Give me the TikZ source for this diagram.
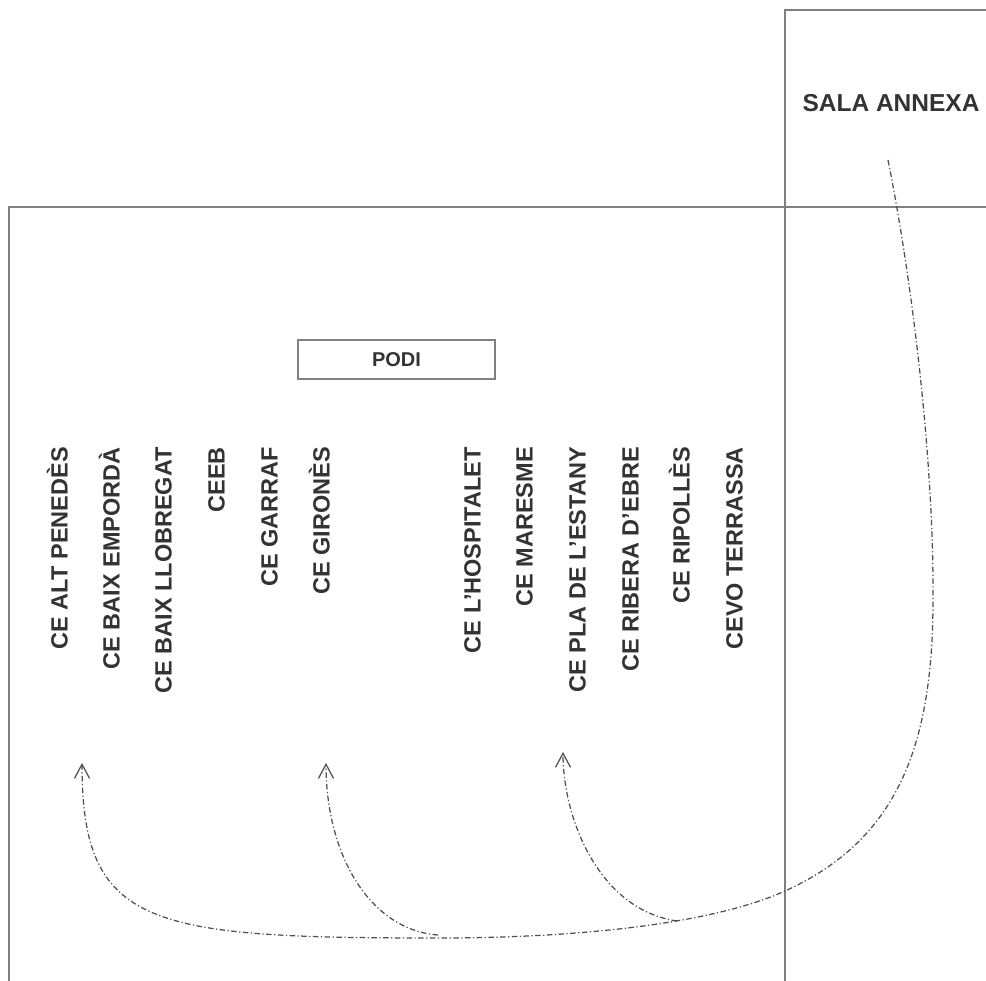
\documentclass[tikz,border=0pt]{standalone}
\usepackage{fontspec}
\setmainfont{Liberation Sans}
\usetikzlibrary{arrows.meta}
\definecolor{wallc}{HTML}{808080}
\definecolor{txtc}{HTML}{333333}
\definecolor{flowc}{HTML}{505050}
\begin{document}
\begin{tikzpicture}[x=1pt,y=-1pt,
  wall/.style={draw=wallc,line width=2pt},
  lbl/.style={rotate=90,anchor=east,inner sep=0pt,text height=17pt,text depth=0pt,
    font=\fontsize{23.5}{24}\selectfont\bfseries,text=txtc},
  flow/.style={draw=flowc,line width=1.25pt,dash pattern=on 5.5pt off 2.5pt on 1.2pt off 2.5pt},
  arrowhd/.style={-{Straight Barb[length=14pt,width=15pt]}}]
\useasboundingbox (0,0) rectangle (986,981);
% walls
\draw[wall] (9,981) -- (9,207) -- (986,207);
\draw[wall] (785,981) -- (785,10) -- (986,10);
% texts
\node[font=\fontsize{24.5}{25}\selectfont\bfseries,text=txtc,inner sep=0pt] (sala) at (891,103.5) {SALA ANNEXA};
\node[draw=wallc,line width=2pt,minimum width=197pt,minimum height=39pt,inner sep=0pt,
  font=\fontsize{20}{20}\selectfont\bfseries,text=txtc] (podi) at (396.5,359.5) {PODI};
\node[lbl] (l1) at (59,447) {CE ALT PENEDÈS};
\node[lbl] (l2) at (111,447) {CE BAIX EMPORDÀ};
\node[lbl] (l3) at (163,447) {CE BAIX LLOBREGAT};
\node[lbl] (l4) at (216,447) {CEEB};
\node[lbl] (l5) at (269,447) {CE GARRAF};
\node[lbl] (l6) at (321,447) {CE GIRONÈS};
\node[lbl] (r1) at (472,447) {CE L’HOSPITALET};
\node[lbl] (r2) at (524,447) {CE MARESME};
\node[lbl] (r3) at (577,447) {CE PLA DE L’ESTANY};
\node[lbl] (r4) at (630,447) {CE RIBERA D’EBRE};
\node[lbl] (r5) at (681,447) {CE RIPOLLÈS};
\node[lbl] (r6) at (734,447) {CEVO TERRASSA};
% flow coordinates
\coordinate (s0) at (888,160);
\coordinate (s1) at (933,600);
\coordinate (s2) at (785,891);
\coordinate (s3) at (440,938);
\coordinate (a1) at (82,763);
\coordinate (j2) at (438,935);
\coordinate (a2) at (326,763);
\coordinate (j3) at (677,921);
\coordinate (a3) at (563,752);
% flows
\draw[flow,arrowhd] (s0) .. controls (912,280) and (934,460) .. (s1)
  .. controls (933,750) and (895,841) .. (s2)
  .. controls (705,927) and (560,938) .. (s3)
  .. controls (150,938) and (82,928) .. (a1);
\draw[flow,arrowhd] (j2) .. controls (370,930) and (326,855) .. (a2);
\draw[flow,arrowhd] (j3) .. controls (600,910) and (563,820) .. (a3);
\end{tikzpicture}
\end{document}
